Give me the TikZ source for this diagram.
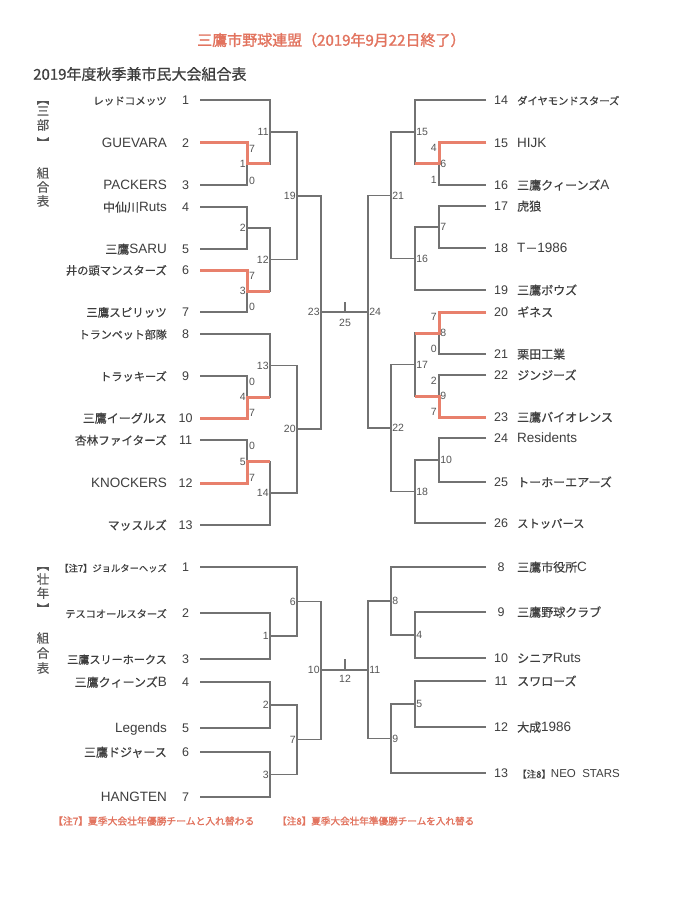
\documentclass[tikz,border=0pt]{standalone}
\usepackage{fontspec}
\setmainfont{Liberation Sans}
\newfontfamily\jp[FakeBold=0.4]{Noto Sans CJK JP}
\newfontfamily\jpb[FakeBold=1.5]{Noto Sans CJK JP}
\newfontfamily\jpm[FakeBold=0.8]{Noto Sans CJK JP}
\newcommand\J[2][12]{{\jp\fontsize{#1}{#1}\selectfont #2}}
\definecolor{ln}{HTML}{727272}
\definecolor{rd}{HTML}{E8806C}
\definecolor{tx}{HTML}{3E3E3E}
\definecolor{lb}{HTML}{555555}
\definecolor{ttl}{HTML}{E2735E}
\newcommand\lteam[4]{\coordinate (#1) at (200,#2);
  \node[lname] (#1n) at (167,#2) {#4};
  \node[num] (#1k) at (185.5,#2) {#3};}
\newcommand\rteam[4]{\coordinate (#1) at (486,#2);
  \node[num] (#1k) at (501,#2) {#3};
  \node[rname] (#1n) at (517,#2) {#4};}
\begin{document}
\begin{tikzpicture}[x=1pt,y=-1pt,
  br/.style={draw=ln,line width=1.1pt},
  win/.style={draw=rd,line width=3pt,line join=miter},
  lname/.style={anchor=base east,inner sep=0pt,text=tx,font=\fontsize{13.5}{13.5}\selectfont,yshift=-4.7pt},
  rname/.style={anchor=base west,inner sep=0pt,text=tx,font=\fontsize{13.5}{13.5}\selectfont,yshift=-4.7pt},
  num/.style={anchor=base,inner sep=0pt,text=tx,font=\fontsize{12.5}{12.5}\selectfont,yshift=-4.4pt},
  ml/.style={inner sep=0pt,text=lb,font=\fontsize{10.5}{10.5}\selectfont},
  lml/.style={ml,anchor=east,xshift=-1.2pt},
  rml/.style={ml,anchor=west,xshift=1.2pt},
  sec/.style={inner sep=0pt,text=lb,font=\jp\fontsize{12.5}{12.5}\selectfont},
  secb/.style={sec,rotate=-90}
]
\fill[white] (0,0) rectangle (675,901);
\path[use as bounding box] (0,0) rectangle (675,901);

% titles
\node[anchor=west,inner sep=0pt,text=ttl,font=\jpb\fontsize{15}{15}\selectfont] (title) at (197,40) {三鷹市野球連盟（2019年9月22日終了）};
\node[anchor=west,inner sep=0pt,text=tx,font=\jpm\fontsize{15}{15}\selectfont] (subtitle) at (33,74) {2019年度秋季兼市民大会組合表};

% section labels
\node[secb] (u1) at (43,99) {【};
\node[sec] (u2) at (43,111) {三};
\node[sec] (u3) at (43,125) {部};
\node[secb] (u4) at (43,143) {】};
\node[sec] (u5) at (43,173) {組};
\node[sec] (u6) at (43,187) {合};
\node[sec] (u7) at (43,201) {表};
\node[secb] (w1) at (43,565) {【};
\node[sec] (w2) at (43,579) {壮};
\node[sec] (w3) at (43,593) {年};
\node[secb] (w4) at (43,609) {】};
\node[sec] (w5) at (43,638) {組};
\node[sec] (w6) at (43,653) {合};
\node[sec] (w7) at (43,668) {表};

% ---------- upper left teams
\lteam{T1}{100}{1}{\J[10.5]{レッドコメッツ}}
\lteam{T2}{143}{2}{GUEVARA}
\lteam{T3}{185}{3}{PACKERS}
\lteam{T4}{207}{4}{\J{中仙川}Ruts}
\lteam{T5}{249}{5}{\J{三鷹}SARU}
\lteam{T6}{270}{6}{\J[11.3]{井の頭マンスターズ}}
\lteam{T7}{312}{7}{\J[11.5]{三鷹スピリッツ}}
\lteam{T8}{334}{8}{\J[11]{トランペット部隊}}
\lteam{T9}{376}{9}{\J[11.2]{トラッキーズ}}
\lteam{T10}{418}{10}{\J{三鷹イーグルス}}
\lteam{T11}{440}{11}{\J[11.6]{杏林ファイターズ}}
\lteam{T12}{483}{12}{KNOCKERS}
\lteam{T13}{525}{13}{\J[11.8]{マッスルズ}}

% ---------- upper right teams
\rteam{R14}{100}{14}{\J[10.3]{ダイヤモンドスターズ}}
\rteam{R15}{143}{15}{HIJK}
\rteam{R16}{185}{16}{\J{三鷹クィーンズ}A}
\rteam{R17}{206}{17}{\J{虎狼}}
\rteam{R18}{248}{18}{T\J{－}1986}
\rteam{R19}{290}{19}{\J{三鷹ボウズ}}
\rteam{R20}{312}{20}{\J{ギネス}}
\rteam{R21}{354}{21}{\J{栗田工業}}
\rteam{R22}{375}{22}{\J{ジンジーズ}}
\rteam{R23}{417}{23}{\J{三鷹バイオレンス}}
\rteam{R24}{438}{24}{Residents}
\rteam{R25}{482}{25}{\J{トーホーエアーズ}}
\rteam{R26}{523}{26}{\J[11.3]{ストッパース}}

% ---------- lower left teams
\lteam{S1}{567}{1}{\J[9.3]{【注7】ジョルターヘッズ}}
\lteam{S2}{613}{2}{\J[10.2]{テスコオールスターズ}}
\lteam{S3}{659}{3}{\J[11.1]{三鷹スリーホークス}}
\lteam{S4}{682}{4}{\J{三鷹クィーンズ}B}
\lteam{S5}{728}{5}{Legends}
\lteam{S6}{752}{6}{\J{三鷹ドジャース}}
\lteam{S7}{797}{7}{HANGTEN}

% ---------- lower right teams
\rteam{Q8}{567}{8}{\J{三鷹市役所}C}
\rteam{Q9}{612}{9}{\J{三鷹野球クラブ}}
\rteam{Q10}{658}{10}{\J{シニア}Ruts}
\rteam{Q11}{681}{11}{\J{スワローズ}}
\rteam{Q12}{727}{12}{\J{大成}1986}
\rteam{Q13}{773}{13}{{\fontsize{11.5}{11.5}\selectfont\J[9.5]{【注8】}NEO\ \ STARS}}

% ---------- junctions
\coordinate (a1) at (247,164);
\coordinate (a11) at (270,132);
\coordinate (a2) at (247,228);
\coordinate (a3) at (247,291);
\coordinate (a12) at (270,259.5);
\coordinate (a19) at (297,196);
\coordinate (a4) at (247,397);
\coordinate (a13) at (270,365.5);
\coordinate (a5) at (247,461.5);
\coordinate (a14) at (270,493);
\coordinate (a20) at (297,429);
\coordinate (a23) at (321,312);

\coordinate (b6) at (439,164);
\coordinate (b15) at (415,132);
\coordinate (b7) at (439,227);
\coordinate (b16) at (415,258.5);
\coordinate (b21) at (391,195.5);
\coordinate (b8) at (439,333);
\coordinate (b9) at (439,396);
\coordinate (b17) at (415,364.5);
\coordinate (b10) at (439,460);
\coordinate (b18) at (415,491.5);
\coordinate (b22) at (391,428);
\coordinate (b24) at (368,312);

\coordinate (c1) at (270,636);
\coordinate (c6) at (297,601.5);
\coordinate (c2) at (270,705);
\coordinate (c3) at (270,774.5);
\coordinate (c7) at (297,739.5);
\coordinate (c10) at (321,670);

\coordinate (d4) at (415,635);
\coordinate (d8) at (391,601);
\coordinate (d5) at (415,704);
\coordinate (d9) at (391,738.5);
\coordinate (d11) at (368,670);

\coordinate (tk1) at (345,312);
\coordinate (tk1t) at (345,302);
\coordinate (tk2) at (345,670);
\coordinate (tk2t) at (345,659);

% ---------- brackets
\draw[br] (T2) -| (a1) |- (T3);
\draw[br] (T1) -| (a11) |- (a1);
\draw[br] (T4) -| (a2) |- (T5);
\draw[br] (T6) -| (a3) |- (T7);
\draw[br] (a2) -| (a12) |- (a3);
\draw[br] (a11) -| (a19) |- (a12);
\draw[br] (T9) -| (a4) |- (T10);
\draw[br] (T8) -| (a13) |- (a4);
\draw[br] (T11) -| (a5) |- (T12);
\draw[br] (a5) -| (a14) |- (T13);
\draw[br] (a13) -| (a20) |- (a14);
\draw[br] (a19) -| (a23) |- (a20);

\draw[br] (R15) -| (b6) |- (R16);
\draw[br] (R14) -| (b15) |- (b6);
\draw[br] (R17) -| (b7) |- (R18);
\draw[br] (b7) -| (b16) |- (R19);
\draw[br] (b15) -| (b21) |- (b16);
\draw[br] (R20) -| (b8) |- (R21);
\draw[br] (R22) -| (b9) |- (R23);
\draw[br] (b8) -| (b17) |- (b9);
\draw[br] (R24) -| (b10) |- (R25);
\draw[br] (b10) -| (b18) |- (R26);
\draw[br] (b17) -| (b22) |- (b18);
\draw[br] (b21) -| (b24) |- (b22);

\draw[br] (a23) -- (b24);
\draw[br] (tk1) -- (tk1t);

\draw[br] (S2) -| (c1) |- (S3);
\draw[br] (S1) -| (c6) |- (c1);
\draw[br] (S4) -| (c2) |- (S5);
\draw[br] (S6) -| (c3) |- (S7);
\draw[br] (c2) -| (c7) |- (c3);
\draw[br] (c6) -| (c10) |- (c7);

\draw[br] (Q9) -| (d4) |- (Q10);
\draw[br] (Q8) -| (d8) |- (d4);
\draw[br] (Q11) -| (d5) |- (Q12);
\draw[br] (d5) -| (d9) |- (Q13);
\draw[br] (d8) -| (d11) |- (d9);

\draw[br] (c10) -- (d11);
\draw[br] (tk2) -- (tk2t);

% ---------- winners
\draw[win] (T2) -| (a1) -- (a1 -| a11);
\draw[win] (T6) -| (a3) -- (a3 -| a12);
\draw[win] (T10) -| (a4) -- (a4 -| a13);
\draw[win] (T12) -| (a5) -- (a5 -| a14);
\draw[win] (R15) -| (b6) -- (b6 -| b15);
\draw[win] (R20) -| (b8) -- (b8 -| b17);
\draw[win] (R23) -| (b9) -- (b9 -| b17);

% ---------- match labels
\node[lml] (la1) at (a1) {1};
\node[lml] (la11) at (a11) {11};
\node[lml] (la2) at (a2) {2};
\node[lml] (la3) at (a3) {3};
\node[lml] (la12) at (a12) {12};
\node[lml] (la19) at (a19) {19};
\node[lml] (la4) at (a4) {4};
\node[lml] (la13) at (a13) {13};
\node[lml] (la5) at (a5) {5};
\node[lml] (la14) at (a14) {14};
\node[lml] (la20) at (a20) {20};
\node[lml] (la23) at (a23) {23};

\node[rml] (lb6) at (b6) {6};
\node[rml] (lb15) at (b15) {15};
\node[rml] (lb7) at (b7) {7};
\node[rml] (lb16) at (b16) {16};
\node[rml] (lb21) at (b21) {21};
\node[rml] (lb8) at (b8) {8};
\node[rml] (lb9) at (b9) {9};
\node[rml] (lb17) at (b17) {17};
\node[rml] (lb10) at (b10) {10};
\node[rml] (lb18) at (b18) {18};
\node[rml] (lb22) at (b22) {22};
\node[rml] (lb24) at (b24) {24};

\node[ml] (l25) at (345,323) {25};

\node[lml] (lc1) at (c1) {1};
\node[lml] (lc6) at (c6) {6};
\node[lml] (lc2) at (c2) {2};
\node[lml] (lc3) at (c3) {3};
\node[lml] (lc7) at (c7) {7};
\node[lml] (lc10) at (c10) {10};
\node[rml] (ld8) at (d8) {8};
\node[rml] (ld4) at (d4) {4};
\node[rml] (ld5) at (d5) {5};
\node[rml] (ld9) at (d9) {9};
\node[rml] (ld11) at (d11) {11};
\node[ml] (l12) at (345,679) {12};

% ---------- scores
\node[ml,anchor=west] (s1a) at (249,148.5) {7};
\node[ml,anchor=west] (s1b) at (249,180.5) {0};
\node[ml,anchor=west] (s3a) at (249,276) {7};
\node[ml,anchor=west] (s3b) at (249,306.5) {0};
\node[ml,anchor=west] (s4a) at (249,381.5) {0};
\node[ml,anchor=west] (s4b) at (249,412.5) {7};
\node[ml,anchor=west] (s5a) at (249,445.5) {0};
\node[ml,anchor=west] (s5b) at (249,477.5) {7};
\node[ml,anchor=east] (s6a) at (437,148) {4};
\node[ml,anchor=east] (s6b) at (437,180) {1};
\node[ml,anchor=east] (s8a) at (437,317) {7};
\node[ml,anchor=east] (s8b) at (437,349) {0};
\node[ml,anchor=east] (s9a) at (437,381) {2};
\node[ml,anchor=east] (s9b) at (437,412) {7};

% ---------- footnotes
\node[anchor=west,inner sep=0pt,text=ttl,font=\jpb\fontsize{9.8}{9.8}\selectfont] (fn1) at (53,821) {【注7】夏季大会壮年優勝チームと入れ替わる};
\node[anchor=west,inner sep=0pt,text=ttl,font=\jpb\fontsize{9.6}{9.6}\selectfont] (fn2) at (277,821) {【注8】夏季大会壮年準優勝チームを入れ替る};
\end{tikzpicture}
\end{document}
